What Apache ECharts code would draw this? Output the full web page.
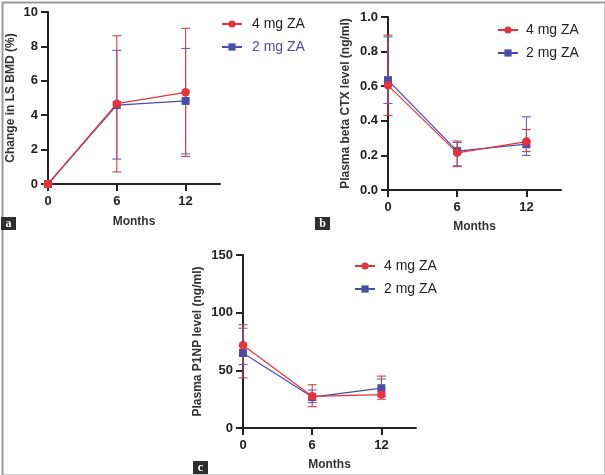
<!DOCTYPE html>
<html><head><meta charset="utf-8">
<script src="https://cdn.jsdelivr.net/npm/echarts@6/dist/echarts.min.js"></script>
<style>html,body{margin:0;padding:0;background:#fff}#c{width:605px;height:475px}</style>
</head><body><div id="c"></div>
<script>
var months = [0, 6, 12];
var xTicks = [0, 6, 12];
var groups = ['4 mg ZA', '2 mg ZA'];

// Panel a: change in LS BMD (%)
var bmd4 = [0, 4.67, 5.33];
var bmd4Lo = [0, 0.7, 1.6];
var bmd4Hi = [0, 8.62, 9.05];
var bmd2 = [0, 4.59, 4.83];
var bmd2Lo = [0, 1.45, 1.75];
var bmd2Hi = [0, 7.77, 7.88];
var bmdTicks = [0, 2, 4, 6, 8, 10];

// Panel b: plasma beta CTX (ng/ml)
var ctx4 = [0.605, 0.215, 0.28];
var ctx4Lo = [0.43, 0.135, 0.222];
var ctx4Hi = [0.895, 0.283, 0.35];
var ctx2 = [0.635, 0.225, 0.265];
var ctx2Lo = [0.5, 0.14, 0.2];
var ctx2Hi = [0.885, 0.275, 0.423];
var ctxTicks = [0.0, 0.2, 0.4, 0.6, 0.8, 1.0];

// Panel c: plasma P1NP (ng/ml)
var p1np4 = [71.8, 27.5, 29];
var p1np4Lo = [43.5, 18.5, 25];
var p1np4Hi = [89.5, 37.5, 45];
var p1np2 = [65, 26.8, 34.5];
var p1np2Lo = [55, 22, 27.5];
var p1np2Hi = [86.5, 33, 42.5];
var p1npTicks = [0, 50, 100, 150];

var RED = '#e8323c', BLUE = '#4a4ca8';
var RED_ERR = '#c8464a', BLUE_ERR = '#6264b4';
var FONT = 'Liberation Sans, Arial, sans-serif';

function pairs(xs, ys) { return xs.map(function (x, i) { return [x, ys[i]]; }); }
function errs(xs, lo, hi) { return xs.map(function (x, i) { return [x, lo[i], hi[i]]; }); }

function errRender(color) {
  return function (params, api) {
    var x = api.value(0), lo = api.value(1), hi = api.value(2);
    var pLo = api.coord([x, lo]), pHi = api.coord([x, hi]);
    var w = 4.5;
    var st = { stroke: color, lineWidth: 1.1 };
    return { type: 'group', children: [
      { type: 'line', shape: { x1: pLo[0], y1: pLo[1], x2: pHi[0], y2: pHi[1] }, style: st },
      { type: 'line', shape: { x1: pLo[0] - w, y1: pLo[1], x2: pLo[0] + w, y2: pLo[1] }, style: st },
      { type: 'line', shape: { x1: pHi[0] - w, y1: pHi[1], x2: pHi[0] + w, y2: pHi[1] }, style: st }
    ]};
  };
}

var grids = [
  { left: 48, top: 12, width: 172, height: 172 },
  { left: 388, top: 17, width: 173, height: 173 },
  { left: 243, top: 255, width: 173, height: 173 }
];
var yNames = ['Change in LS BMD (%)', 'Plasma beta CTX level (ng/ml)', 'Plasma P1NP level (ng/ml)'];
var yMax = [10, 1.0, 150];
var yInt = [2, 0.2, 50];
var yGaps = [31, 36, 39];
var xGaps = [32, 31, 31];
var yFmt = [function (v) { return String(v); }, function (v) { return v.toFixed(1); }, function (v) { return String(v); }];

var axisLine = { show: true, lineStyle: { color: '#222', width: 2 } };
var xAxes = [], yAxes = [];
for (var i = 0; i < 3; i++) {
  xAxes.push({
    type: 'value', gridIndex: i, min: 0, max: 15, interval: 6,
    name: 'Months', nameLocation: 'middle', nameGap: xGaps[i],
    nameTextStyle: { fontFamily: FONT, fontWeight: 'bold', fontSize: 12, color: '#333' },
    axisLine: axisLine,
    axisTick: { show: true, length: 7, lineStyle: { color: '#222', width: 2 }, customValues: xTicks },
    axisLabel: { fontFamily: FONT, fontWeight: 'bold', fontSize: 13, color: '#222', margin: 11, customValues: xTicks },
    splitLine: { show: false }
  });
  yAxes.push({
    type: 'value', gridIndex: i, min: 0, max: yMax[i], interval: yInt[i],
    name: yNames[i], nameLocation: 'middle', nameGap: yGaps[i], nameRotate: 90,
    nameTextStyle: { fontFamily: FONT, fontWeight: 'bold', fontSize: 12, color: '#333' },
    axisLine: axisLine,
    axisTick: { show: true, length: 7, lineStyle: { color: '#222', width: 2 } },
    axisLabel: { fontFamily: FONT, fontWeight: 'bold', fontSize: 13, color: '#222', margin: 10, formatter: yFmt[i] },
    splitLine: { show: false }
  });
}

var panelData = [
  [bmd4, bmd4Lo, bmd4Hi, bmd2, bmd2Lo, bmd2Hi],
  [ctx4, ctx4Lo, ctx4Hi, ctx2, ctx2Lo, ctx2Hi],
  [p1np4, p1np4Lo, p1np4Hi, p1np2, p1np2Lo, p1np2Hi]
];

var series = [];
panelData.forEach(function (d, i) {
  series.push({ type: 'line', name: groups[1], xAxisIndex: i, yAxisIndex: i, data: pairs(months, d[3]),
    symbol: 'rect', symbolSize: 8, color: BLUE, lineStyle: { color: BLUE, width: 1.2 }, itemStyle: { color: BLUE },
    z: 3, animation: false });
  series.push({ type: 'line', name: groups[0], xAxisIndex: i, yAxisIndex: i, data: pairs(months, d[0]),
    symbol: 'circle', symbolSize: 8.5, color: RED, lineStyle: { color: RED, width: 1.2 }, itemStyle: { color: RED },
    z: 4, animation: false });
  series.push({ type: 'custom', name: groups[1] + ' SD', xAxisIndex: i, yAxisIndex: i, renderItem: errRender(BLUE_ERR),
    data: errs(months, d[4], d[5]), encode: { x: 0, y: [1, 2] }, z: 2, silent: true });
  series.push({ type: 'custom', name: groups[0] + ' SD', xAxisIndex: i, yAxisIndex: i, renderItem: errRender(RED_ERR),
    data: errs(months, d[1], d[2]), encode: { x: 0, y: [1, 2] }, z: 2, silent: true });
});

function legend(left, top, gap, secondColor) {
  return {
    left: left, top: top, orient: 'vertical', itemWidth: 20, itemHeight: 9, itemGap: 9,
    textStyle: { fontFamily: FONT, fontSize: 14, color: '#222', padding: [0, 0, 0, gap] },
    data: [
      { name: groups[0] },
      { name: groups[1], textStyle: { color: secondColor } }
    ],
    selectedMode: false
  };
}

function tag(letter, x, y) {
  return { type: 'group', left: x, top: y, children: [
    { type: 'rect', shape: { x: 0, y: 0, width: 15, height: 13 }, style: { fill: '#2e2e2e' } },
    { type: 'text', x: 7.5, y: 6.5, style: { text: letter, fill: '#fff', font: 'bold 12px Liberation Serif, serif', align: 'center', verticalAlign: 'middle' } }
  ]};
}

var chart = echarts.init(document.getElementById('c'), null, { renderer: 'canvas' });
chart.setOption({
  animation: false,
  backgroundColor: '#fff',
  grid: grids,
  xAxis: xAxes,
  yAxis: yAxes,
  legend: [legend(216, 12, 5, BLUE), legend(492, 18, 3, '#222'), legend(349, 254, 4, '#222')],
  series: series,
  graphic: [
    { type: 'rect', left: 0, top: 0, shape: { x: 0, y: 0, width: 603, height: 473 }, style: { fill: null, stroke: '#9a9a9a', lineWidth: 2 }, silent: true },
    tag('a', 1, 217),
    tag('b', 315, 217),
    tag('c', 193, 461)
  ]
});
</script></body></html>
